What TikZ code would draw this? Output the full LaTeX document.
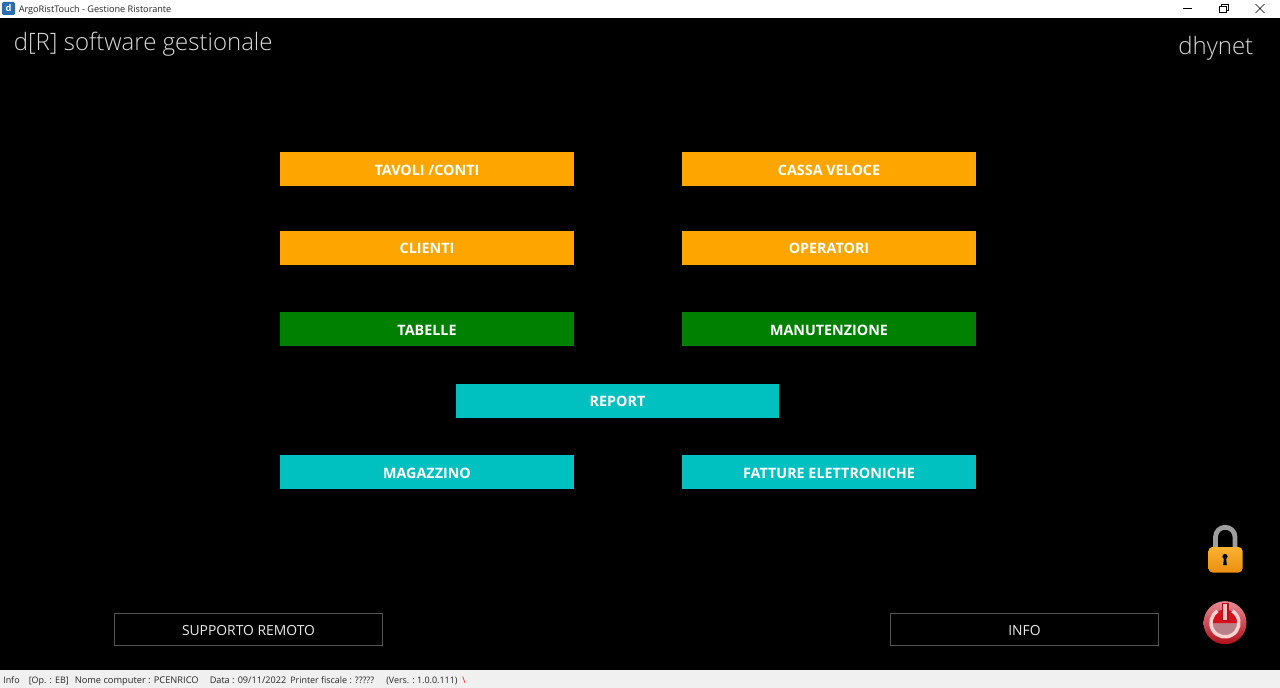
\documentclass[tikz,border=0pt]{standalone}
\usepackage{fontspec}
\setmainfont{Open Sans}
\newfontfamily\lightfont{Open Sans Light}
\usetikzlibrary{positioning}
\definecolor{btnorange}{HTML}{FFA500}
\definecolor{btngreen}{HTML}{008000}
\definecolor{btnteal}{HTML}{00C0C0}
\definecolor{barline}{HTML}{F0F0F0}
\definecolor{iconblue}{HTML}{2A6DB0}
\definecolor{locktop}{HTML}{FBB232}
\definecolor{lockbottom}{HTML}{EA8F10}
\definecolor{rimtop}{HTML}{E88A94}
\definecolor{rimbottom}{HTML}{B0101C}
\definecolor{powerred}{HTML}{D8101C}
\definecolor{powerglass}{HTML}{B88088}

\begin{document}
\begin{tikzpicture}[x=.75pt,y=-.75pt,
    btn/.style={minimum width=220.5pt,minimum height=25.5pt,inner sep=0pt,text=white,text height=9.2pt,text depth=0pt,font=\fontsize{10.75}{12}\selectfont\bfseries},
    orangebtn/.style={btn,fill=btnorange},
    greenbtn/.style={btn,fill=btngreen},
    tealbtn/.style={btn,fill=btnteal},
    outlinebtn/.style={draw=white!33!black,line width=.75pt,minimum width=201pt,minimum height=24.5pt,inner sep=0pt,text=white!92!black,text height=9.2pt,text depth=0pt,font=\fontsize{10.4}{12}\selectfont},
    bartext/.style={anchor=base west,inner sep=0pt,text=black!85,font=\fontsize{6.7}{8}\selectfont},
    headtext/.style={inner sep=0pt,text=white!85!black,font=\fontsize{18}{22}\lightfont}]
    \useasboundingbox (0,0) rectangle (1280,688);
    \fill[black] (0,0) rectangle (1280,688);
    % title bar
    \fill[white] (0,0) rectangle (1280,18);
    \fill[iconblue,rounded corners=1pt] (2,2) rectangle (15,15);
    \node[inner sep=0pt,text=white,font=\fontsize{7}{8}\selectfont\bfseries] (appicon) at (8.5,8) {d};
    \node[bartext,font=\fontsize{6.85}{8}\selectfont] (apptitle) at (18.5,13) {ArgoRistTouch - Gestione Ristorante};
    \draw[black,line width=.5pt] (1183,8.5) -- (1192,8.5);
    \draw[black,line width=.5pt] (1219.5,6.5) rectangle (1226,12.5);
    \draw[black,line width=.5pt] (1221.5,6) -- (1221.5,4.5) -- (1228,4.5) -- (1228,10.5) -- (1226,10.5);
    \draw[black,line width=.5pt] (1255.5,4) -- (1264.5,13) (1264.5,4) -- (1255.5,13);
    % headings
    \node[headtext,anchor=base west] (brand) at (13.5,50.5) {d[R] software gestionale};
    \node[headtext,anchor=base east] (dhynet) at (1253.5,55) {dhynet};
    % main buttons
    \node[orangebtn] (tavoli) at (427,169) {TAVOLI /CONTI};
    \node[orangebtn] (cassa) at (829,169) {CASSA VELOCE};
    \node[orangebtn] (clienti) at (427,247.5) {CLIENTI};
    \node[orangebtn] (operatori) at (829,247.5) {OPERATORI};
    \node[greenbtn] (tabelle) at (427,329) {TABELLE};
    \node[greenbtn] (manut) at (829,329) {MANUTENZIONE};
    \node[tealbtn,minimum width=242.25pt] (report) at (617.5,400.5) {REPORT};
    \node[tealbtn] (magazzino) at (427,472) {MAGAZZINO};
    \node[tealbtn] (fatture) at (829,472) {FATTURE ELETTRONICHE};
    \node[outlinebtn] (supporto) at (248.5,629.5) {SUPPORTO REMOTO};
    \node[outlinebtn] (info) at (1024.5,629.5) {INFO};
    % lock icon
    \draw[white!62!black,line width=3.6pt] (1215.5,550) -- (1215.5,537) arc[start angle=180,end angle=360,radius=9.75] -- (1235,550);
    \shade[top color=locktop,bottom color=lockbottom,rounded corners=3pt] (1208.5,547) rectangle (1242.5,572.5);
    \fill[black] (1225,556.5) circle[radius=2.6];
    \fill[black] (1224,557) -- (1226,557) -- (1226.8,565) -- (1223.2,565) -- cycle;
    % power icon
    \shade[top color=rimtop,bottom color=rimbottom] (1225,622.7) circle[radius=21.5];
    \fill[powerglass] (1211,622) arc[start angle=180,end angle=0,radius=14] -- cycle;
    \fill[powerred] (1211.5,623) arc[start angle=180,end angle=360,radius=13.5] -- cycle;
    \draw[white!82!red,line width=2.6pt] (1217.5,611) arc[start angle=-122,end angle=-418,radius=14];
    \fill[rimbottom] (1221.5,603) rectangle (1228.5,621);
    \fill[white!75!red] (1223.2,604) rectangle (1226.8,620);
    % status bar
    \fill[barline] (0,670) rectangle (1280,688);
    \node[bartext] (stinfo) at (3,683) {Info};
    \node[bartext] (stop) at (28.5,683) {[Op. : EB]};
    \node[bartext,font=\fontsize{6.95}{8}\selectfont] (stpc) at (74.5,683) {Nome computer : PCENRICO};
    \node[bartext,font=\fontsize{6.85}{8}\selectfont] (stdata) at (209.5,683) {Data : 09/11/2022};
    \node[bartext] (stprinter) at (290,683) {Printer fiscale : ?????};
    \node[bartext] (stvers) at (386,683) {(Vers. :\ 1.0.0.111)};
    \node[bartext,text=red] (stslash) at (462,683) {\textbackslash};
\end{tikzpicture}
\end{document}
